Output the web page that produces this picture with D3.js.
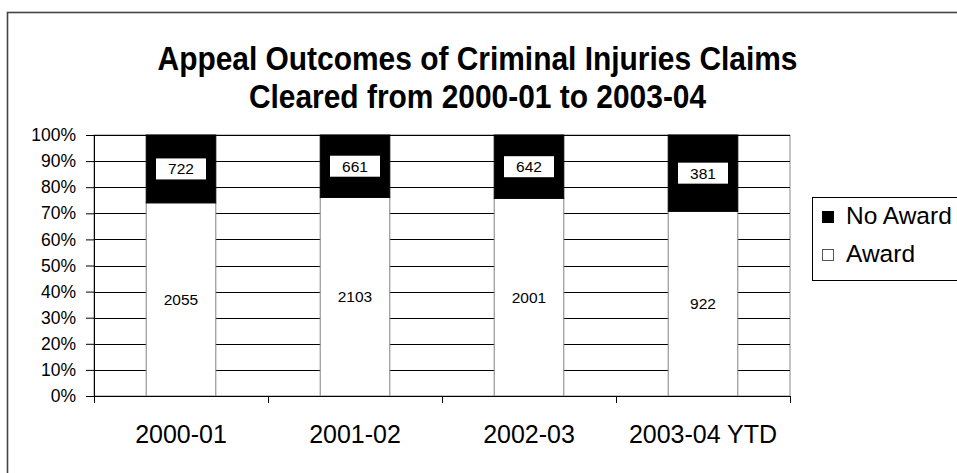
<!DOCTYPE html>
<html>
<head>
<meta charset="utf-8">
<script src="https://cdn.jsdelivr.net/npm/d3@7"></script>
<style>
  html, body { margin: 0; padding: 0; background: #fff; }
  svg { display: block; font-family: "Liberation Sans", Arial, sans-serif; }
</style>
</head>
<body>
<svg id="chart" width="957" height="473"></svg>
<script>
// Appeal outcomes per financial year
const categories = ["2000-01", "2001-02", "2002-03", "2003-04 YTD"];
const noAward = [722, 661, 642, 381];
const award = [2055, 2103, 2001, 922];
const seriesNames = ["No Award", "Award"];
const yTicks = [0, 0.1, 0.2, 0.3, 0.4, 0.5, 0.6, 0.7, 0.8, 0.9, 1.0];
const titleLines = ["Appeal Outcomes of Criminal Injuries Claims", "Cleared from 2000-01 to 2003-04"];

const svg = d3.select("#chart");
const W = 957, H = 473;
const plot = { left: 94, right: 790, top: 135, bottom: 396 };

// outer frame (runs off the right and bottom edges)
svg.append("rect")
  .attr("x", 7.5).attr("y", 12.5)
  .attr("width", W).attr("height", H)
  .attr("fill", "#fff").attr("stroke", "#444").attr("stroke-width", 1.6);

// title, set in a slightly condensed bold face
svg.append("g").selectAll("text").data(titleLines).join("text")
  .attr("transform", (d, i) => `translate(477.5,${70 + i * 38}) scale(0.88,1)`)
  .attr("text-anchor", "middle")
  .attr("font-weight", "bold")
  .attr("font-size", 34)
  .attr("fill", "#000")
  .text(d => d);

const rows = categories.map((c, i) => {
  const total = award[i] + noAward[i];
  return { cat: c, award: award[i], noAward: noAward[i], pa: award[i] / total };
});

const x = d3.scaleBand().domain(categories)
  .range([plot.left, plot.right]).paddingInner(0.6).paddingOuter(0.3);
const y = d3.scaleLinear().domain([0, 1]).range([plot.bottom, plot.top]);

// plot area border
svg.append("rect")
  .attr("x", plot.left).attr("y", plot.top)
  .attr("width", plot.right - plot.left).attr("height", plot.bottom - plot.top)
  .attr("fill", "#fff").attr("stroke", "#888").attr("stroke-width", 1);

// horizontal gridlines
svg.append("g").selectAll("line").data(yTicks).join("line")
  .attr("x1", plot.left).attr("x2", plot.right)
  .attr("y1", d => Math.round(y(d)) + 0.5).attr("y2", d => Math.round(y(d)) + 0.5)
  .attr("stroke", "#000").attr("stroke-width", 1);

// bars: award (white) at the bottom, no award (black) on top
const bars = svg.append("g").selectAll("g").data(rows).join("g");
bars.append("rect")
  .attr("x", d => x(d.cat)).attr("width", x.bandwidth())
  .attr("y", d => y(d.pa)).attr("height", d => y(0) - y(d.pa))
  .attr("fill", "#fff").attr("stroke", "#808080").attr("stroke-width", 1);
bars.append("rect")
  .attr("x", d => x(d.cat)).attr("width", x.bandwidth())
  .attr("y", y(1)).attr("height", d => y(d.pa) - y(1))
  .attr("fill", "#000").attr("stroke", "#000").attr("stroke-width", 1);

// y axis
const yAxis = svg.append("g")
  .attr("transform", `translate(${plot.left},0)`)
  .call(d3.axisLeft(y).tickValues(yTicks).tickFormat(d3.format(".0%")).tickSize(8).tickPadding(10));
yAxis.select(".domain").attr("stroke", "#000").attr("d", `M0.5,${plot.top}V${plot.bottom + 6}`);
yAxis.selectAll(".tick line").attr("stroke", "#000");
yAxis.selectAll(".tick text").attr("font-size", 17.5).attr("fill", "#000")
  .attr("font-family", "Liberation Sans, Arial, sans-serif");

// x axis: baseline with ticks at category boundaries
const xg = svg.append("g");
xg.append("line")
  .attr("x1", plot.left - 8).attr("x2", plot.right)
  .attr("y1", plot.bottom + 0.5).attr("y2", plot.bottom + 0.5)
  .attr("stroke", "#000");
const bounds = d3.range(categories.length + 1).map(i => plot.left + i * x.step());
xg.selectAll("line.b").data(bounds).join("line").attr("class", "b")
  .attr("x1", d => Math.round(d) + 0.5).attr("x2", d => Math.round(d) + 0.5)
  .attr("y1", plot.bottom).attr("y2", plot.bottom + 7)
  .attr("stroke", "#000");
xg.selectAll("text").data(categories).join("text")
  .attr("x", d => x(d) + x.bandwidth() / 2)
  .attr("y", 443)
  .attr("text-anchor", "middle")
  .attr("font-size", 25)
  .attr("fill", "#000")
  .text(d => d);

// value labels
const lblFont = 15.5;
bars.each(function (d) {
  const g = d3.select(this);
  const cx = x(d.cat) + x.bandwidth() / 2;
  const cyTop = (y(1) + y(d.pa)) / 2;
  const cyBot = (y(d.pa) + y(0)) / 2;
  g.append("rect")
    .attr("x", cx - 25).attr("y", cyTop - 10.5)
    .attr("width", 50).attr("height", 21)
    .attr("fill", "#fff");
  g.append("text")
    .attr("x", cx).attr("y", cyTop).attr("dy", "0.35em")
    .attr("text-anchor", "middle").attr("font-size", lblFont).attr("fill", "#000")
    .text(d.noAward);
  g.append("text")
    .attr("x", cx).attr("y", cyBot).attr("dy", "0.35em")
    .attr("text-anchor", "middle").attr("font-size", lblFont).attr("fill", "#000")
    .text(d.award);
});

// legend
const lg = svg.append("g");
lg.append("rect").attr("x", 812.5).attr("y", 197.5).attr("width", 200).attr("height", 83)
  .attr("fill", "#fff").attr("stroke", "#000").attr("stroke-width", 1);
const items = lg.selectAll("g").data(seriesNames).join("g")
  .attr("transform", (d, i) => `translate(822,${211 + i * 38})`);
items.append("rect").attr("x", 0.5).attr("y", 0.5).attr("width", 11).attr("height", 11)
  .attr("fill", (d, i) => i === 0 ? "#000" : "#fff")
  .attr("stroke", (d, i) => i === 0 ? "#000" : "#555");
items.append("text")
  .attr("x", 24).attr("y", 13)
  .attr("font-size", 24.5).attr("fill", "#000")
  .text(d => d);
</script>
</body>
</html>
